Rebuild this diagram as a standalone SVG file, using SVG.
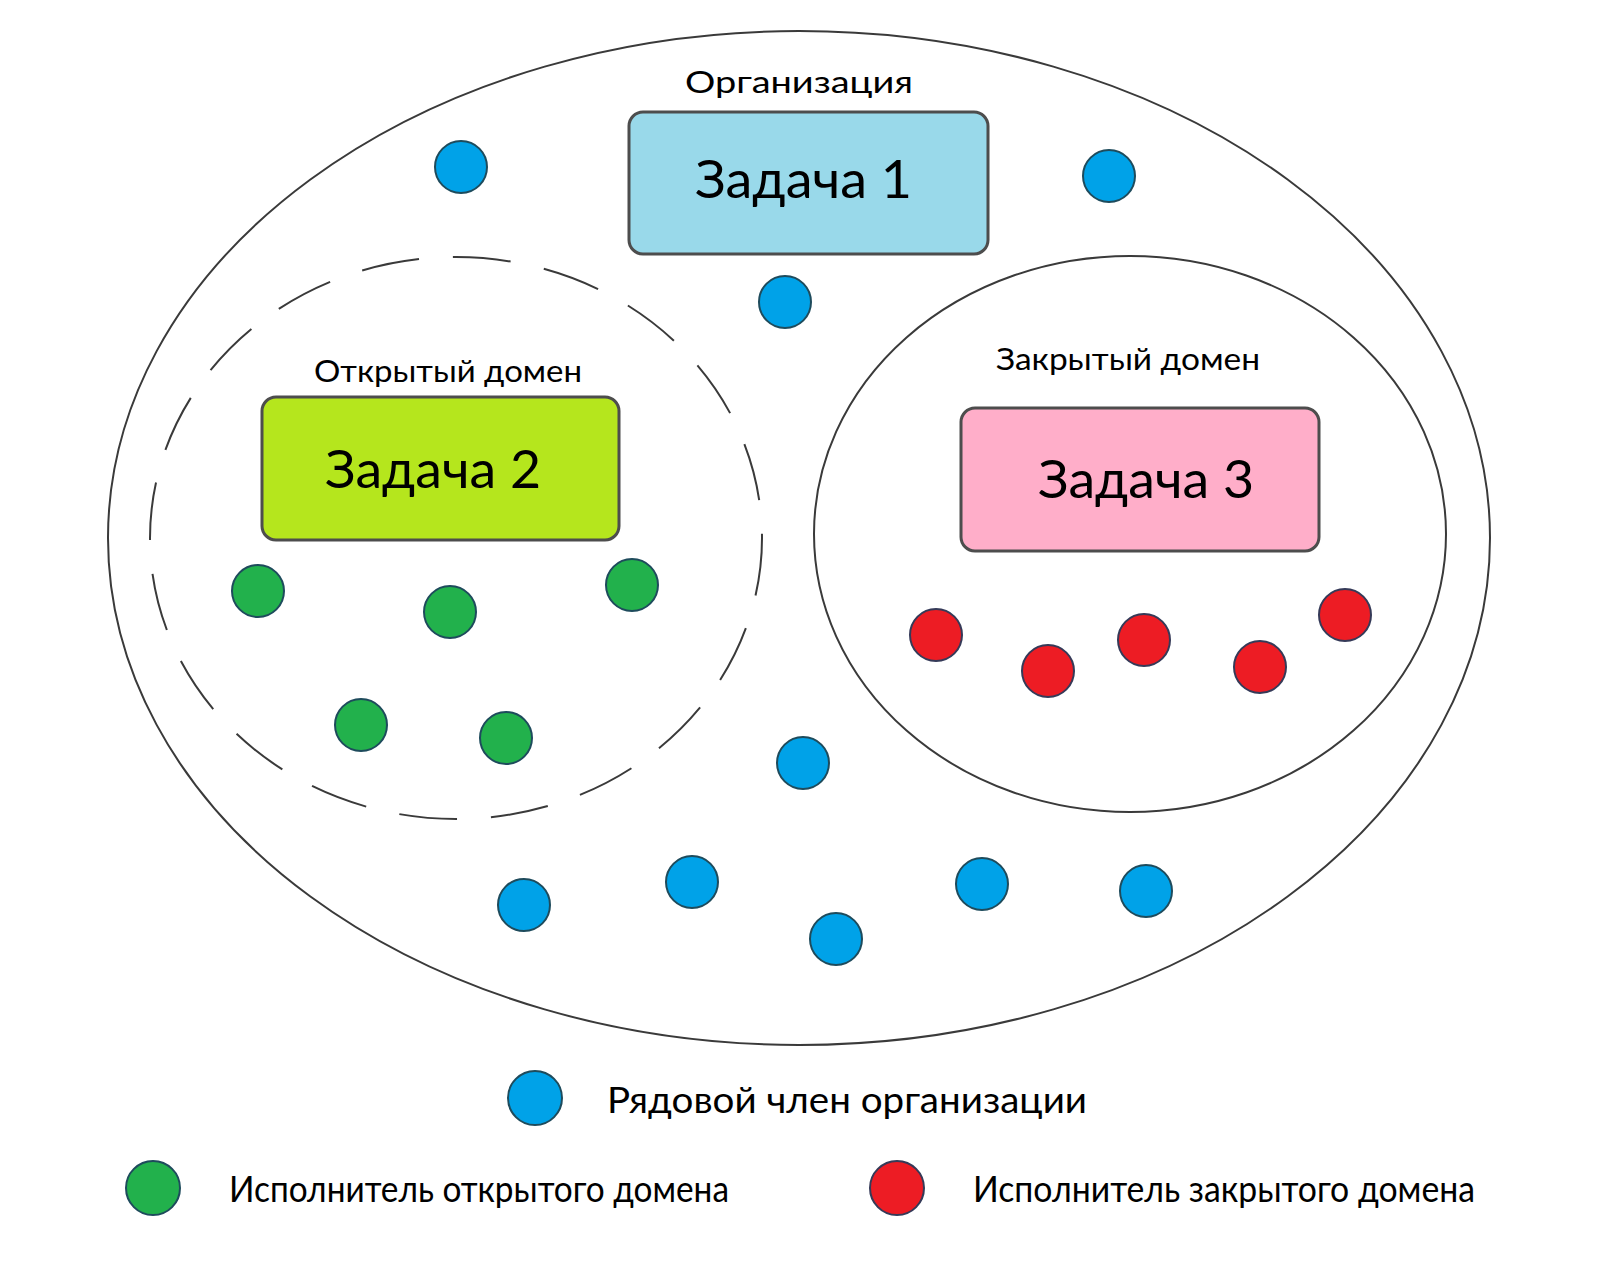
<svg xmlns="http://www.w3.org/2000/svg" width="1600" height="1271" viewBox="0 0 1600 1271">
<style>
  .t{font-family:Lato,"Open Sans","Liberation Sans",sans-serif;fill:#000}
  .lbl{font-size:31px}
  .task{font-size:53px}
  .leg{font-size:36px}
  .area{fill:none;stroke:#3a3a3a;stroke-width:2}
  .dash{stroke-dasharray:58 34}
  .box{stroke:#4d4d4d;stroke-width:3}
  .dot{stroke:#1e4b5c;stroke-width:2}
  .blue{fill:#00a2e8}
  .green{fill:#22b14c}
  .red{fill:#ed1c24;stroke:#353a58}
</style>
<rect width="1600" height="1271" fill="#fff"/>
<g id="organization">
  <ellipse class="area" cx="799" cy="538" rx="691" ry="507"/>
  <text class="t lbl" x="685" y="93" textLength="228" lengthAdjust="spacingAndGlyphs">Организация</text>
</g>
<g id="open-domain">
  <ellipse class="area dash" cx="456" cy="538" rx="306" ry="281"/>
  <text class="t lbl" x="314" y="382" textLength="268" lengthAdjust="spacingAndGlyphs">Открытый домен</text>
</g>
<g id="closed-domain">
  <ellipse class="area" cx="1130" cy="534" rx="316" ry="278"/>
  <text class="t lbl" x="996" y="370" textLength="264" lengthAdjust="spacingAndGlyphs">Закрытый домен</text>
</g>
<g id="task1">
  <rect class="box" x="629" y="112" width="359" height="142" rx="14" fill="#99d9ea"/>
  <text class="t task" x="695" y="198" textLength="217" lengthAdjust="spacingAndGlyphs">Задача 1</text>
</g>
<g id="task2">
  <rect class="box" x="262" y="397" width="357" height="143" rx="14" fill="#b5e61d"/>
  <text class="t task" x="325" y="488" textLength="216" lengthAdjust="spacingAndGlyphs">Задача 2</text>
</g>
<g id="task3">
  <rect class="box" x="961" y="408" width="358" height="143" rx="14" fill="#ffaec9"/>
  <text class="t task" x="1038" y="498" textLength="216" lengthAdjust="spacingAndGlyphs">Задача 3</text>
</g>
<g id="members">
  <circle class="dot blue" cx="461" cy="167" r="26"/>
  <circle class="dot blue" cx="1109" cy="176" r="26"/>
  <circle class="dot blue" cx="785" cy="302" r="26"/>
  <circle class="dot blue" cx="803" cy="763" r="26"/>
  <circle class="dot blue" cx="524" cy="905" r="26"/>
  <circle class="dot blue" cx="692" cy="882" r="26"/>
  <circle class="dot blue" cx="836" cy="939" r="26"/>
  <circle class="dot blue" cx="982" cy="884" r="26"/>
  <circle class="dot blue" cx="1146" cy="891" r="26"/>
</g>
<g id="open-executors">
  <circle class="dot green" cx="258" cy="591" r="26"/>
  <circle class="dot green" cx="450" cy="612" r="26"/>
  <circle class="dot green" cx="632" cy="585" r="26"/>
  <circle class="dot green" cx="361" cy="725" r="26"/>
  <circle class="dot green" cx="506" cy="738" r="26"/>
</g>
<g id="closed-executors">
  <circle class="dot red" cx="936" cy="635" r="26"/>
  <circle class="dot red" cx="1048" cy="671" r="26"/>
  <circle class="dot red" cx="1144" cy="640" r="26"/>
  <circle class="dot red" cx="1260" cy="667" r="26"/>
  <circle class="dot red" cx="1345" cy="615" r="26"/>
</g>
<g id="connectors"/>
<g id="legend">
  <g id="legend-member">
    <circle class="dot blue" cx="535" cy="1098" r="27"/>
    <text class="t leg" x="607" y="1113" textLength="480" lengthAdjust="spacingAndGlyphs">Рядовой член организации</text>
  </g>
  <g id="legend-open">
    <circle class="dot green" cx="153" cy="1188" r="27"/>
    <text class="t leg" x="229" y="1202" textLength="500" lengthAdjust="spacingAndGlyphs">Исполнитель открытого домена</text>
  </g>
  <g id="legend-closed">
    <circle class="dot red" cx="897" cy="1188" r="27"/>
    <text class="t leg" x="973" y="1202" textLength="502" lengthAdjust="spacingAndGlyphs">Исполнитель закрытого домена</text>
  </g>
</g>
</svg>
